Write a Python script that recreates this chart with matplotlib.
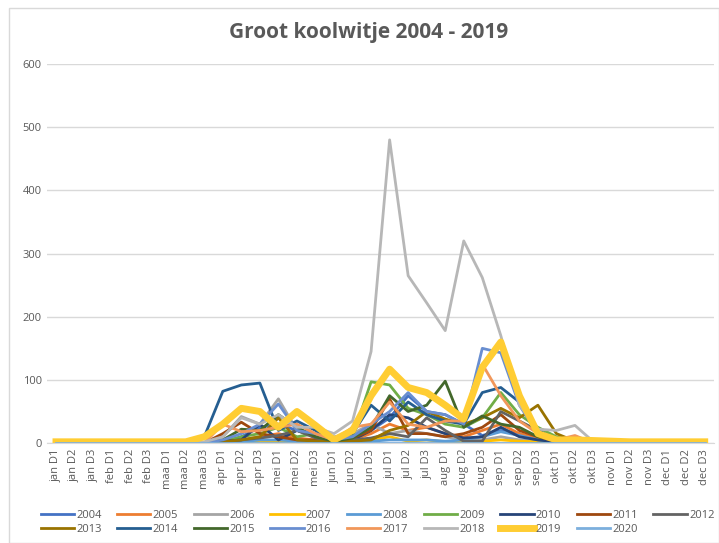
import numpy as np
import matplotlib.pyplot as plt

plt.rcParams['font.family'] = ['Open Sans', 'DejaVu Sans']

months = ['jan', 'feb', 'maa', 'apr', 'mei', 'jun', 'jul', 'aug', 'sep', 'okt', 'nov', 'dec']
cats = [m + ' D' + str(d) for m in months for d in (1, 2, 3)]

zero9 = [0] * 9
y2004 = zero9 + [2, 10, 25, 30, 20, 15, 3, 5, 20] + [40, 75, 50, 45, 30, 12, 20, 15, 5] + [2, 5, 0, 0, 0, 0, 0, 0, 0]
y2005 = zero9 + [0, 5, 10, 15, 8, 5, 2, 5, 15] + [30, 20, 25, 15, 10, 20, 30, 15, 8] + [3, 10, 0, 0, 0, 0, 0, 0, 0]
y2006 = zero9 + [10, 42, 30, 70, 20, 15, 10, 15, 30] + [15, 20, 15, 10, 5, 5, 10, 5, 3] + [0, 0, 0, 0, 0, 0, 0, 0, 0]
y2007 = zero9 + [0, 2, 3, 2, 2, 2, 0, 3, 5] + [10, 3, 5, 2, 2, 3, 5, 3, 2] + [0, 0, 0, 0, 0, 0, 0, 0, 0]
y2008 = zero9 + [0, 2, 5, 5, 3, 3, 1, 2, 3] + [5, 5, 5, 3, 5, 10, 18, 12, 5] + [2, 0, 0, 0, 0, 0, 0, 0, 0]
y2009 = zero9 + [2, 10, 15, 25, 10, 15, 5, 10, 97] + [92, 55, 45, 30, 25, 40, 80, 45, 25] + [10, 3, 0, 0, 0, 0, 0, 0, 0]
y2010 = zero9 + [3, 5, 30, 5, 20, 10, 2, 5, 20] + [45, 40, 25, 15, 8, 10, 25, 10, 5] + [2, 0, 0, 0, 0, 0, 0, 0, 0]
y2011 = zero9 + [15, 33, 15, 10, 5, 5, 2, 8, 20] + [70, 15, 15, 10, 15, 25, 45, 20, 10] + [3, 0, 0, 0, 0, 0, 0, 0, 0]
y2012 = zero9 + [2, 5, 8, 12, 20, 8, 2, 5, 8] + [15, 10, 40, 20, 3, 3, 50, 35, 20] + [5, 0, 0, 0, 0, 0, 0, 0, 0]
y2013 = zero9 + [2, 5, 10, 40, 5, 3, 2, 3, 5] + [20, 28, 50, 38, 30, 40, 55, 40, 60] + [15, 3, 0, 0, 0, 0, 0, 0, 0]
y2014 = [0, 0, 0, 0, 0, 0, 0, 0, 10] + [82, 92, 95, 20, 35, 20, 5, 15, 60] + [35, 65, 45, 35, 30, 80, 88, 65, 20] + [5, 2, 0, 0, 0, 0, 0, 0, 0]
y2015 = zero9 + [5, 22, 20, 45, 25, 10, 3, 8, 25] + [75, 50, 60, 98, 25, 43, 30, 25, 10] + [5, 0, 0, 0, 0, 0, 0, 0, 0]
y2016 = zero9 + [5, 15, 30, 62, 20, 15, 5, 10, 30] + [50, 80, 50, 45, 30, 150, 143, 60, 15] + [5, 0, 0, 0, 0, 0, 0, 0, 0]
y2017 = zero9 + [30, 18, 20, 25, 30, 15, 5, 25, 30] + [65, 30, 25, 35, 35, 125, 75, 35, 15] + [5, 12, 0, 0, 0, 0, 0, 0, 0]
y2018 = [0, 0, 0, 0, 0, 0, 0, 0, 2] + [10, 40, 30, 45, 25, 25, 15, 35, 145] + [480, 265, 222, 178, 320, 262, 170, 60, 22] + [20, 28, 2, 0, 0, 0, 0, 0, 0]
y2019 = [2, 2, 2, 2, 2, 2, 2, 2, 10] + [30, 55, 50, 25, 50, 28, 5, 20, 75] + [117, 88, 80, 60, 38, 120, 160, 75, 15] + [5, 5, 4, 3, 2, 2, 2, 2, 2]
y2020 = [0] * 36

years = ['2004', '2005', '2006', '2007', '2008', '2009', '2010', '2011', '2012',
         '2013', '2014', '2015', '2016', '2017', '2018', '2019', '2020']
series = [y2004, y2005, y2006, y2007, y2008, y2009, y2010, y2011, y2012,
          y2013, y2014, y2015, y2016, y2017, y2018, y2019, y2020]
colors = ['#4472C4', '#ED7D31', '#A5A5A5', '#FFC000', '#5B9BD5', '#70AD47',
          '#264478', '#9E480E', '#636363', '#997300', '#255E91', '#43682B',
          '#698ED0', '#F1975A', '#B7B7B7', '#FFCD33', '#7CAFDD']

fig = plt.figure(figsize=(7.19, 5.43), dpi=100)
ax = fig.add_axes([0.065, 0.184, 0.928, 0.698])

x = np.arange(len(cats))
handles = []
for yr, ys, c in zip(years, series, colors):
    lw = 5 if yr == '2019' else 2
    h, = ax.plot(x, ys, color=c, lw=lw, label=yr)
    handles.append(h)

ax.set_xlim(-0.5, 35.5)
ax.set_ylim(0, 600)
ax.set_yticks(range(0, 601, 100))
ax.set_xticks(x)
ax.set_xticklabels(cats, rotation=90)
ax.tick_params(axis='both', length=0, labelsize=8, colors='#595959')
ax.tick_params(axis='x', pad=4)
ax.grid(axis='y', color='#D9D9D9', lw=1)
ax.set_axisbelow(True)
for s in ['top', 'right', 'left']:
    ax.spines[s].set_visible(False)
ax.spines['bottom'].set_color('#D9D9D9')

fig.text(0.512, 0.94, 'Groot koolwitje 2004 - 2019', ha='center', va='center',
         fontsize=15, fontweight='bold', color='#595959')

# rij 1: 2004-2012, rij 2: 2013-2020
order = []
for i in range(9):
    order.append(i)
    if i + 9 < 17:
        order.append(i + 9)
fig.legend([handles[i] for i in order], [years[i] for i in order],
           loc='center', bbox_to_anchor=(0.525, 0.038), ncol=9, frameon=False,
           fontsize=8, handlelength=3.0, columnspacing=1.4, handletextpad=0.2,
           labelspacing=0.25, labelcolor='#595959')

border = plt.Rectangle((0.012, 0.0), 0.988, 0.985, transform=fig.transFigure,
                       fill=False, ec='#D9D9D9', lw=1)
fig.patches.append(border)

fig.savefig('out.png', dpi=100)
